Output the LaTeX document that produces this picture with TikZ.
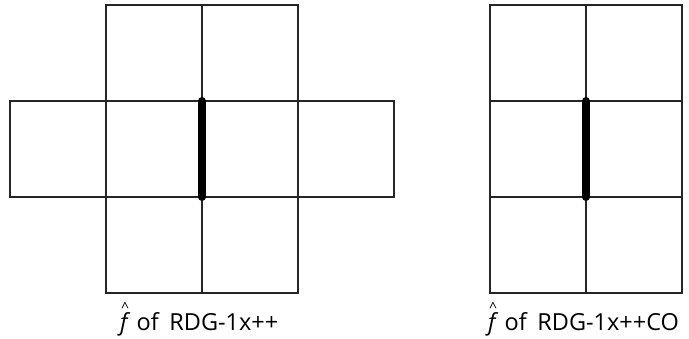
\documentclass[tikz,border=0pt]{standalone}
\usepackage{fontspec}
\setmainfont{Open Sans}
\newcommand{\fhat}{\makebox[0pt][l]{\hspace{0.05em}\raisebox{18.5pt}{\fontsize{14}{14}\selectfont\^{}}}\textit{f}}
\begin{document}
\begin{tikzpicture}[x=1pt,y=-1pt,
  gridline/.style={line width=1.1pt, black!85},
  edgemark/.style={line width=8pt, line cap=round},
  caption/.style={anchor=base west, inner sep=0pt, font=\fontsize{23.5}{23.5}\selectfont}]
\useasboundingbox (0,0) rectangle (689,339);

% left pattern: a cross of eight cells
\draw[gridline] (106,5) rectangle (298,293);
\draw[gridline] (10,101) rectangle (394,197);
\draw[gridline] (202,5) -- (202,293);
\draw[gridline] (106,101) -- (298,101);
\draw[gridline] (106,197) -- (298,197);
\coordinate (le1) at (202,101);
\coordinate (le2) at (202,197);
\draw[edgemark] (le1) -- (le2);
\node[caption] (lcap) at (120,331) {\fhat\ of\hspace{0.45em}RDG-1x++};

% right pattern: a block of six cells
\draw[gridline] (490,5) rectangle (682,293);
\draw[gridline] (586,5) -- (586,293);
\draw[gridline] (490,101) -- (682,101);
\draw[gridline] (490,197) -- (682,197);
\coordinate (re1) at (586,101);
\coordinate (re2) at (586,197);
\draw[edgemark] (re1) -- (re2);
\node[caption] (rcap) at (488,331) {\fhat\ of\hspace{0.45em}RDG-1x++CO};
\end{tikzpicture}
\end{document}
